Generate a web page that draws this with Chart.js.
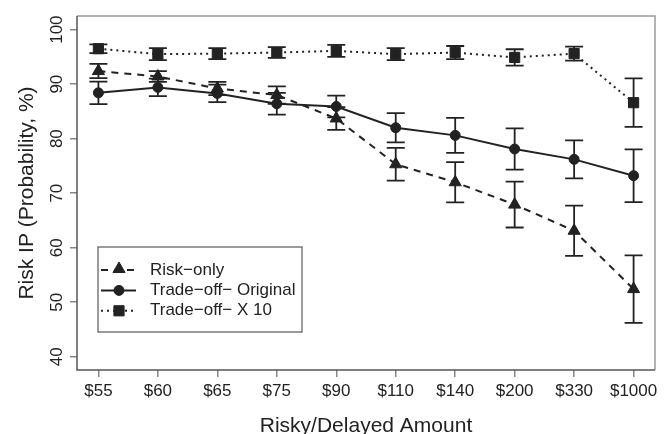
<!DOCTYPE html>
<html>
<head>
<meta charset="utf-8">
<script src="https://cdn.jsdelivr.net/npm/chart.js@4/dist/chart.umd.min.js"></script>
<style>
  html, body { margin:0; padding:0; background:#fff; }
  #wrap { width:669px; height:434px; }
</style>
</head>
<body>
<div id="wrap"><canvas id="chart" width="669" height="434"></canvas></div>
<script>
const xLabels = ['$55','$60','$65','$75','$90','$110','$140','$200','$330','$1000'];
const yTicks = [40,50,60,70,80,90,100];

const riskOnly    = [92.4, 91.4, 89.2, 88.0, 83.7, 75.3, 72.0, 67.9, 63.1, 52.4];
const riskOnlyErr = [1.3, 1.0, 1.2, 1.6, 2.1, 3.0, 3.7, 4.2, 4.6, 6.2];
const original    = [88.4, 89.4, 88.3, 86.4, 85.9, 82.0, 80.6, 78.1, 76.2, 73.2];
const originalErr = [2.05, 1.6, 1.6, 2.0, 2.0, 2.7, 3.2, 3.8, 3.5, 4.85];
const x10         = [96.5, 95.5, 95.6, 95.8, 96.1, 95.5, 95.8, 94.9, 95.6, 86.6];
const x10Err      = [0.8, 1.1, 1.0, 1.0, 1.1, 1.1, 1.2, 1.5, 1.3, 4.45];

const ink = '#222';
const font = "'Liberation Sans', Arial, Helvetica, sans-serif";

function pts(arr){ return arr.map((v,i)=>({x:i, y:v})); }

const errors = [riskOnlyErr, originalErr, x10Err];

// error bars drawn through the scales
const errorBars = {
  id:'errorBars',
  afterDatasetsDraw(chart){
    const ctx = chart.ctx, xs = chart.scales.x, ys = chart.scales.y;
    ctx.save();
    ctx.strokeStyle = ink;
    ctx.lineWidth = 1.8;
    chart.data.datasets.forEach((ds,di)=>{
      ds.data.forEach((p,i)=>{
        const e = errors[di][i];
        const px = xs.getPixelForValue(p.x);
        const top = ys.getPixelForValue(p.y + e);
        const bot = ys.getPixelForValue(p.y - e);
        ctx.beginPath();
        ctx.moveTo(px, top); ctx.lineTo(px, bot);
        ctx.moveTo(px-9, top); ctx.lineTo(px+9, top);
        ctx.moveTo(px-9, bot); ctx.lineTo(px+9, bot);
        ctx.stroke();
      });
    });
    ctx.restore();
  }
};

// R style box and legend
const boxAndLegend = {
  id:'boxAndLegend',
  afterDraw(chart){
    const ctx = chart.ctx, a = chart.chartArea;
    ctx.save();
    ctx.lineWidth = 1.5;
    ctx.strokeStyle = '#999';
    ctx.beginPath();
    ctx.moveTo(a.left, a.top); ctx.lineTo(a.right, a.top); ctx.lineTo(a.right, a.bottom);
    ctx.stroke();
    ctx.strokeStyle = '#555';
    ctx.beginPath();
    ctx.moveTo(a.left, a.top); ctx.lineTo(a.left, a.bottom); ctx.lineTo(a.right, a.bottom);
    ctx.stroke();

    // legend
    const lx = 98, ly = 247, lw = 204, lh = 85;
    ctx.strokeStyle = '#666';
    ctx.lineWidth = 1.3;
    ctx.strokeRect(lx, ly, lw, lh);
    chart.data.datasets.forEach((ds,i)=>{
      const y = 270 + i*20.4;
      ctx.strokeStyle = ink;
      ctx.lineWidth = ds.borderWidth;
      ctx.setLineDash(ds.borderDash || []);
      ctx.beginPath(); ctx.moveTo(101, y); ctx.lineTo(136, y); ctx.stroke();
      ctx.setLineDash([]);
      ctx.fillStyle = ink;
      ctx.lineWidth = 1;
      Chart.helpers.drawPoint(ctx, {pointStyle: ds.pointStyle, radius: ds.pointRadius, rotation:0, borderWidth:1},
        119, y - (ds.pointStyle==='triangle'?1:0));
      ctx.font = '17px ' + font;
      ctx.textBaseline = 'middle';
      ctx.textAlign = 'left';
      ctx.fillText(ds.label, 150, y);
    });
    ctx.restore();
  }
};

new Chart(document.getElementById('chart').getContext('2d'), {
  type:'line',
  data:{
    datasets:[
      {label:'Risk\u2212only', data:pts(riskOnly), borderColor:ink, backgroundColor:ink,
       borderWidth:2, borderDash:[7,6], pointStyle:'triangle', pointRadius:7, pointBorderWidth:1},
      {label:'Trade\u2212off\u2212 Original', data:pts(original), borderColor:ink, backgroundColor:ink,
       borderWidth:2, pointStyle:'circle', pointRadius:5, pointBorderWidth:1},
      {label:'Trade\u2212off\u2212 X 10', data:pts(x10), borderColor:ink, backgroundColor:ink,
       borderWidth:2, borderDash:[2,4], pointStyle:'rect', pointRadius:7.2, pointBorderWidth:1}
    ]
  },
  options:{
    responsive:false,
    animation:false,
    layout:{padding:{top:16, right:14, left:0, bottom:0}},
    plugins:{legend:{display:false}, tooltip:{enabled:false}},
    scales:{
      x:{
        type:'linear', min:-0.36, max:9.36,
        afterBuildTicks(s){ s.ticks = xLabels.map((_,i)=>({value:i})); },
        afterFit(s){ s.height = 64; },
        border:{display:false},
        grid:{drawOnChartArea:false, drawTicks:true, tickLength:7, color:'#888', lineWidth:1.5},
        ticks:{autoSkip:false, maxRotation:0, padding:4, color:ink, font:{family:font, size:17},
               callback:(v)=>xLabels[v]},
        title:{display:true, text:'Risky/Delayed Amount', color:ink,
               font:{family:font, size:21, lineHeight:1}, padding:{top:0, bottom:-3}}
      },
      y:{
        type:'linear', min:37.56, max:102.5,
        afterBuildTicks(s){ s.ticks = yTicks.map(v=>({value:v})); },
        afterFit(s){ s.width = 77; },
        border:{display:false},
        grid:{drawOnChartArea:false, drawTicks:true, tickLength:7, color:'#888', lineWidth:1.5},
        ticks:{minRotation:90, maxRotation:90, crossAlign:'center', padding:-1, color:ink,
               font:{family:font, size:17}},
        title:{display:true, text:'Risk IP (Probability, %)', color:ink,
               font:{family:font, size:21, lineHeight:1}, padding:{top:17, bottom:0}}
      }
    }
  },
  plugins:[errorBars, boxAndLegend]
});
</script>
</body>
</html>
